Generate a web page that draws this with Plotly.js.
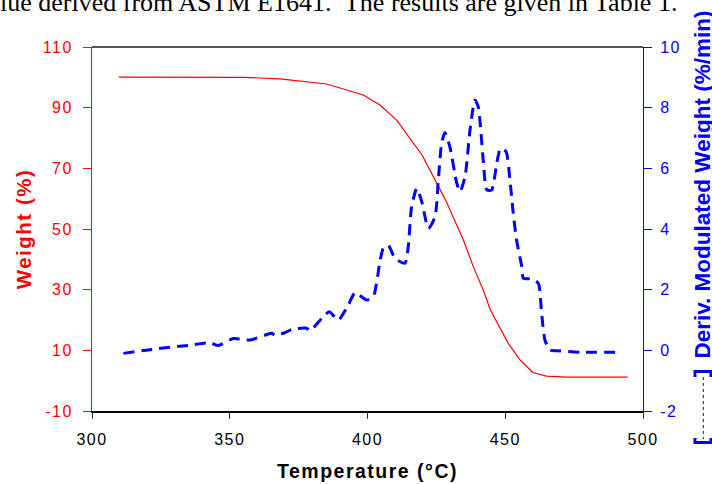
<!DOCTYPE html>
<html><head><meta charset="utf-8">
<script src="https://cdn.plot.ly/plotly-3.0.1.min.js"></script>
<style>
html,body{margin:0;padding:0;background:#fff;overflow:hidden;}
#chart{width:712px;height:484px;}
.xtick text,.ytick text,.y2tick text{letter-spacing:1.5px;}
.xtitle,.ytitle{letter-spacing:1.5px;}
</style></head><body><div id="chart"></div>
<script>
// Weight (%) vs temperature
const weightTemp = [309.8, 340, 355, 368.2, 385.2, 398.5, 402.1, 404.5, 410.6, 419.8, 428.3, 432.5, 434.8, 438.4, 442.0, 444.6, 448.1, 451.1, 455.4, 460.0, 465.0, 472.3, 494.4];
const weightPct  = [100.1, 100.1, 100.0, 99.5, 97.8, 94.2, 92.3, 90.9, 85.9, 74.4, 59.6, 51.3, 46.4, 37.6, 29.9, 23.3, 17.3, 12.3, 6.8, 2.7, 1.5, 1.2, 1.2];

// Deriv. modulated weight (%/min) vs temperature
const derivTemp = [311.4, 323.5, 335.6, 342.8, 345.8, 351.3, 357.3, 365.2, 366.4, 370.0, 372.5, 377.9, 379.1, 384.0, 386.1, 389.4, 393.0, 395.5, 399.7, 402.1, 404.5, 405.7, 407.5, 410.0, 413.6, 414.8, 416.0, 417.9, 419.7, 422.1, 424.5, 425.7, 426.9, 428.1, 429.9, 432.4, 433.6, 435.4, 437.2, 439.0, 440.2, 442.0, 443.3, 445.1, 446.9, 448.3, 450.3, 451.7, 452.9, 454.1, 456.0, 456.6, 459.6, 462.0, 463.2, 464.4, 466.2, 469.9, 477.1, 490.6];
const derivVal  = [-0.10, 0.05, 0.17, 0.25, 0.16, 0.39, 0.34, 0.56, 0.50, 0.58, 0.69, 0.73, 0.65, 1.11, 1.27, 1.00, 1.49, 1.90, 1.66, 1.77, 2.92, 3.36, 3.47, 3.03, 2.87, 3.42, 4.73, 5.34, 4.90, 4.02, 4.40, 5.61, 6.82, 7.18, 6.71, 5.51, 5.23, 5.72, 7.26, 8.25, 8.03, 6.27, 5.29, 5.29, 6.17, 6.66, 6.55, 5.61, 4.52, 3.64, 2.76, 2.37, 2.36, 2.21, 1.22, 0.34, 0.01, -0.02, -0.06, -0.06];

const xTicks = [300, 350, 400, 450, 500];
const leftTicks = [-10, 10, 30, 50, 70, 90, 110];
const rightTicks = [-2, 0, 2, 4, 6, 8, 10];

const W = 712, H = 484, ML = 92, MR = 69, MT = 47, MB = 73;
const PW = W - ML - MR, PH = H - MT - MB;
const px = x => (x - ML) / PW;
const py = y => (H - MB - y) / PH;

const traces = [
  {x: weightTemp, y: weightPct, type: 'scatter', mode: 'lines',
   line: {color: '#ff0000', width: 1.2}, yaxis: 'y', hoverinfo: 'skip'},
  {x: derivTemp, y: derivVal, type: 'scatter', mode: 'lines',
   line: {color: '#0000ff', width: 3, dash: '11px,7px', shape: 'spline', smoothing: 0.6}, yaxis: 'y2', hoverinfo: 'skip'}
];

const tickFont = {family: 'Liberation Sans, Arial, sans-serif', size: 16};
const layout = {
  width: W, height: H,
  margin: {l: ML, r: MR, t: MT, b: MB, pad: 0},
  paper_bgcolor: '#fff', plot_bgcolor: '#fff',
  showlegend: false,
  xaxis: {range: [300, 500], tickvals: xTicks, ticktext: xTicks.map(String),
    showgrid: false, zeroline: false, showline: true, linecolor: '#000', linewidth: 2,
    ticks: 'outside', ticklen: 6, tickwidth: 1, tickcolor: '#333',
    tickfont: Object.assign({color: '#000'}, tickFont), ticklabelstandoff: 7,
    title: {text: '<b>Temperature (°C)</b>', font: {family: 'Liberation Sans, Arial, sans-serif', size: 19.5, color: '#000'}, standoff: 17}},
  yaxis: {range: [-10, 110], tickvals: leftTicks, ticktext: leftTicks.map(String),
    showgrid: false, zeroline: false, showline: true, linecolor: '#ff0000', linewidth: 1,
    ticks: 'outside', ticklen: 8, tickwidth: 1, tickcolor: '#ff0000',
    tickfont: Object.assign({color: '#ff0000'}, tickFont), ticklabelstandoff: 7,
    title: {text: '<b>Weight (%)</b>', font: {family: 'Liberation Sans, Arial, sans-serif', size: 20.5, color: '#ff0000'}, standoff: 5}},
  yaxis2: {range: [-2, 10], tickvals: rightTicks, ticktext: rightTicks.map(String),
    overlaying: 'y', side: 'right',
    showgrid: false, zeroline: false, showline: true, linecolor: '#0000ff', linewidth: 1,
    ticks: 'outside', ticklen: 8, tickwidth: 1, tickcolor: '#0000ff',
    tickfont: Object.assign({color: '#0000ff'}, tickFont), ticklabelstandoff: 5},
  shapes: [
    {type: 'line', xref: 'paper', yref: 'paper', x0: 0, x1: 1, y0: 1, y1: 1, line: {color: '#555', width: 2}},
    {type: 'path', xref: 'paper', yref: 'paper',
     path: `M ${px(695)},${py(377)} L ${px(695)},${py(371.5)} L ${px(711)},${py(371.5)} L ${px(711)},${py(377)}`,
     line: {color: '#0000ff', width: 3}},
    {type: 'path', xref: 'paper', yref: 'paper',
     path: `M ${px(695)},${py(438)} L ${px(695)},${py(442.5)} L ${px(711)},${py(442.5)} L ${px(711)},${py(438)}`,
     line: {color: '#0000ff', width: 3}},
    {type: 'line', xref: 'paper', yref: 'paper', x0: px(703.3), x1: px(703.3), y0: py(377), y1: py(439),
     line: {color: '#0000ff', width: 1, dash: 'dot'}}
  ],
  annotations: [
    {text: 'lue derived from ASTM E1641.  The results are given in Table 1.', xref: 'paper', yref: 'paper',
     x: px(-2), y: py(3), xanchor: 'left', yanchor: 'middle', showarrow: false,
     font: {family: 'Liberation Serif, Times New Roman, serif', size: 26, color: '#000'}},
    {text: '<b>Deriv. Modulated Weight (%/min)</b>', xref: 'paper', yref: 'paper',
     x: px(701.5), y: py(185), xanchor: 'center', yanchor: 'middle', textangle: -90, showarrow: false,
     font: {family: 'Liberation Sans, Arial, sans-serif', size: 22.5, color: '#0000ff'}}
  ]
};

Plotly.newPlot('chart', traces, layout, {displayModeBar: false, staticPlot: true});
</script></body></html>
